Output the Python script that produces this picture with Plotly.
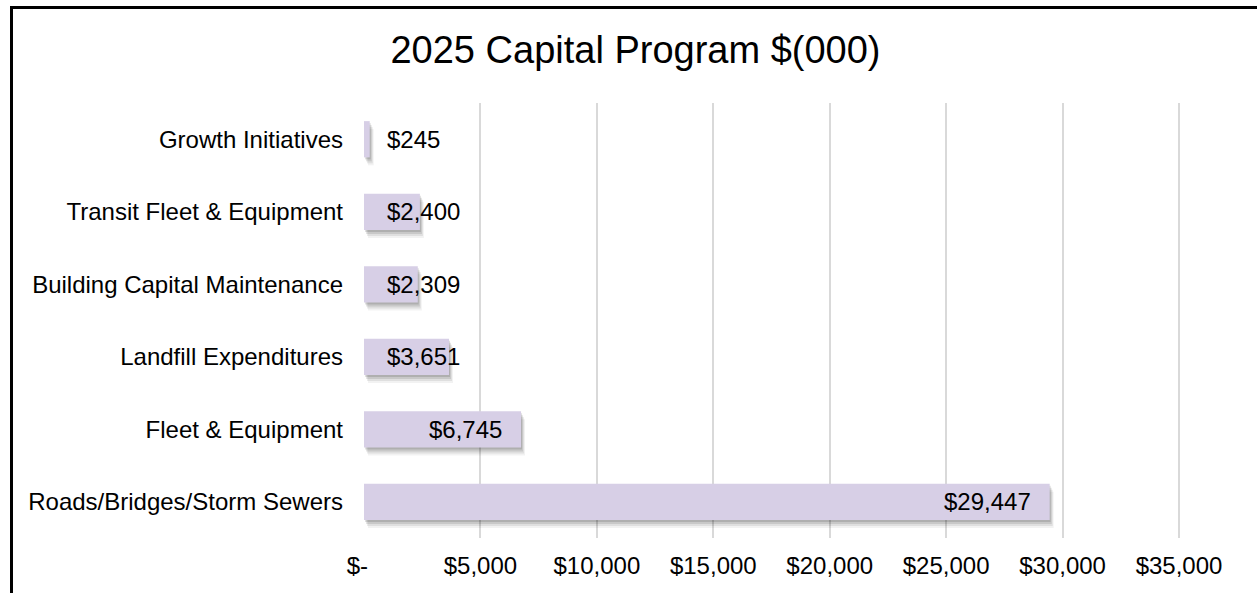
import plotly.graph_objects as go

# ---- data (bottom-to-top order as drawn) ----
categories = ["Roads/Bridges/Storm Sewers", "Fleet & Equipment", "Landfill Expenditures",
              "Building Capital Maintenance", "Transit Fleet & Equipment", "Growth Initiatives"]
values = [29447, 6745, 3651, 2309, 2400, 245]
x_tick_values = [0, 5000, 10000, 15000, 20000, 25000, 30000, 35000]
x_tick_labels = ["$-\u00a0\u00a0", "$5,000", "$10,000", "$15,000", "$20,000",
                 "$25,000", "$30,000", "$35,000"]
title_text = "2025 Capital Program $(000)"

# ---- geometry / style ----
W, H = 1257, 593
x_max = 35000
grid_px = 815                      # pixels from 0 to x_max
extra_px = 4                       # small pad so the last gridline is drawn
L, T, B = 364, 103, 55
R = W - L - grid_px - extra_px
plot_h = H - T - B
plot_w = W - L - R
u_per_px = x_max / grid_px
band_px = plot_h / len(categories)
bar_w = 0.5
FONT = "Arial, Liberation Sans, sans-serif"
BAR_COLOR = "#D7CFE6"

fig = go.Figure()

# soft drop shadow built from a few translucent layers
shadow_layers = [(4, 8, 0.05), (3, 6, 0.08), (2, 4, 0.10), (1, 2, 0.12)]
for dx, dy, a in shadow_layers:
    fig.add_trace(go.Bar(
        y=categories, x=values, base=[dx * u_per_px] * len(values),
        orientation="h", width=bar_w, offset=-bar_w / 2 - dy / band_px,
        marker=dict(color=f"rgba(0,0,0,{a})", line=dict(width=0)),
        hoverinfo="skip", showlegend=False))

fig.add_trace(go.Bar(
    y=categories, x=values, orientation="h", width=bar_w, offset=-bar_w / 2,
    marker=dict(color=BAR_COLOR, line=dict(width=0)),
    hovertemplate="%{y}: $%{x:,}<extra></extra>", showlegend=False))

# data labels: inside end when they fit, otherwise from the bar start
char_w = 0.556 * 24
for cat, v in zip(categories, values):
    label = f"${v:,}"
    est_w = len(label) * char_w * 0.92
    bar_px = v / u_per_px
    if bar_px - 17 - est_w >= 23:
        fig.add_annotation(x=v, y=cat, xref="x", yref="y", text=label, showarrow=False,
                           xanchor="right", xshift=-17, font=dict(size=24, color="black", family=FONT))
    else:
        fig.add_annotation(x=0, y=cat, xref="x", yref="y", text=label, showarrow=False,
                           xanchor="left", xshift=21, font=dict(size=24, color="black", family=FONT))

# chart frame (left and top edges visible)
x_left = (11.5 - L) / plot_w
y_top = (H - B - 7.5) / plot_h
x_right = (W + 20 - L) / plot_w
y_bot = (H - B - (H + 20)) / plot_h
fig.add_shape(type="path", xref="paper", yref="paper",
              path=f"M {x_left} {y_bot} L {x_left} {y_top} L {x_right} {y_top}",
              line=dict(color="black", width=3))

fig.update_layout(
    width=W, height=H,
    margin=dict(l=L, r=R, t=T, b=B, pad=0),
    paper_bgcolor="white", plot_bgcolor="white",
    barmode="overlay",
    showlegend=False,
    font=dict(family=FONT, color="black", size=24),
    title=dict(text=title_text, x=635.5 / W, xanchor="center", xref="container",
               y=1 - 50 / H, yanchor="middle", yref="container",
               font=dict(size=38, color="black", family=FONT)),
    xaxis=dict(range=[0, x_max + extra_px * u_per_px], tickvals=x_tick_values,
               ticktext=x_tick_labels,
               showgrid=True, gridcolor="#D9D9D9", gridwidth=1.5, zeroline=False,
               showline=False, ticks="", ticklabelstandoff=11,
               tickfont=dict(size=24, color="black", family=FONT), fixedrange=True),
    yaxis=dict(categoryorder="array", categoryarray=categories, showgrid=False,
               zeroline=False, showline=False, ticks="", ticklabelstandoff=20,
               tickfont=dict(size=24, color="black", family=FONT), fixedrange=True),
)

fig.write_html("out.html", config={"displayModeBar": False},
               post_script="document.body.style.margin='0px';")
